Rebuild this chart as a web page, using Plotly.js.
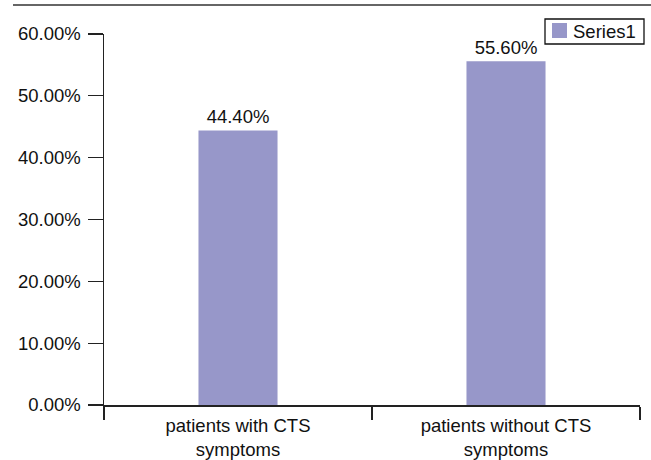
<!DOCTYPE html>
<html>
<head>
<meta charset="utf-8">
<script src="https://cdn.plot.ly/plotly-3.0.1.min.js"></script>
<style>html,body{margin:0;padding:0;background:#fff;}#chart{width:651px;height:460px;}</style>
</head>
<body>
<div id="chart"></div>
<script>
const categories = ["patients with CTS<br>symptoms", "patients without CTS<br>symptoms"];
const values = [0.444, 0.556];
const valueLabels = ["44.40%", "55.60%"];
const seriesName = "Series1";
const yTickVals = [0, 0.1, 0.2, 0.3, 0.4, 0.5, 0.6];
const yTickText = ["0.00%", "10.00%", "20.00%", "30.00%", "40.00%", "50.00%", "60.00%"];

const font = "Liberation Sans, Arial, Helvetica, sans-serif";
const fs = 18.5;
const barColor = "#9797C9";
// pixel -> paper helpers for decoration placement
const PL = 104, PR = 640, PT = 34, PB = 405;
const px = X => (X - PL) / (PR - PL);
const py = Y => (PB - Y) / (PB - PT);

const trace = {
  type: "bar",
  x: categories,
  y: values,
  name: seriesName,
  text: valueLabels,
  textposition: "outside",
  cliponaxis: false,
  textfont: {family: font, size: fs, color: "#111"},
  marker: {color: barColor, line: {width: 0}},
  width: 0.295,
  showlegend: false,
  hoverinfo: "none"
};
const layout = {
  width: 651, height: 460,
  margin: {l: PL, r: 651 - PR, t: PT, b: 460 - PB},
  paper_bgcolor: "#fff", plot_bgcolor: "#fff",
  font: {family: font, size: fs, color: "#111"},
  showlegend: false,
  xaxis: {
    type: "category",
    range: [-0.5, 1.5],
    tickson: "boundaries",
    ticks: "outside", ticklen: 13, tickwidth: 1.3, tickcolor: "#222",
    ticklabelstandoff: 3,
    showline: true, linecolor: "#222", linewidth: 1.5,
    showgrid: false, zeroline: false,
    tickfont: {family: font, size: fs, color: "#111"},
    fixedrange: true
  },
  yaxis: {
    range: [0, 0.6],
    tickmode: "array", tickvals: yTickVals, ticktext: yTickText,
    ticks: "outside", ticklen: 15, tickwidth: 1.3, tickcolor: "#222",
    ticklabelstandoff: 3,
    showline: true, linecolor: "#222", linewidth: 1.5,
    showgrid: false, zeroline: false,
    tickfont: {family: font, size: fs, color: "#111"},
    fixedrange: true
  },
  shapes: [
    {type: "line", xref: "paper", yref: "paper",
     x0: px(13), x1: px(651), y0: py(5), y1: py(5),
     line: {color: "#333", width: 1.5}},
    {type: "rect", xref: "paper", yref: "paper",
     x0: px(545), x1: px(644), y0: py(19), y1: py(44),
     fillcolor: "#fff", line: {color: "#111", width: 1.3}},
    {type: "rect", xref: "paper", yref: "paper",
     x0: px(552), x1: px(567), y0: py(23), y1: py(38),
     fillcolor: barColor, line: {width: 0}}
  ],
  annotations: [
    {xref: "paper", yref: "paper", x: px(571), y: py(31.5),
     xanchor: "left", yanchor: "middle", showarrow: false,
     text: seriesName, font: {family: font, size: fs, color: "#111"}}
  ]
};
Plotly.newPlot("chart", [trace], layout, {displayModeBar: false, staticPlot: true});
</script>
</body>
</html>
